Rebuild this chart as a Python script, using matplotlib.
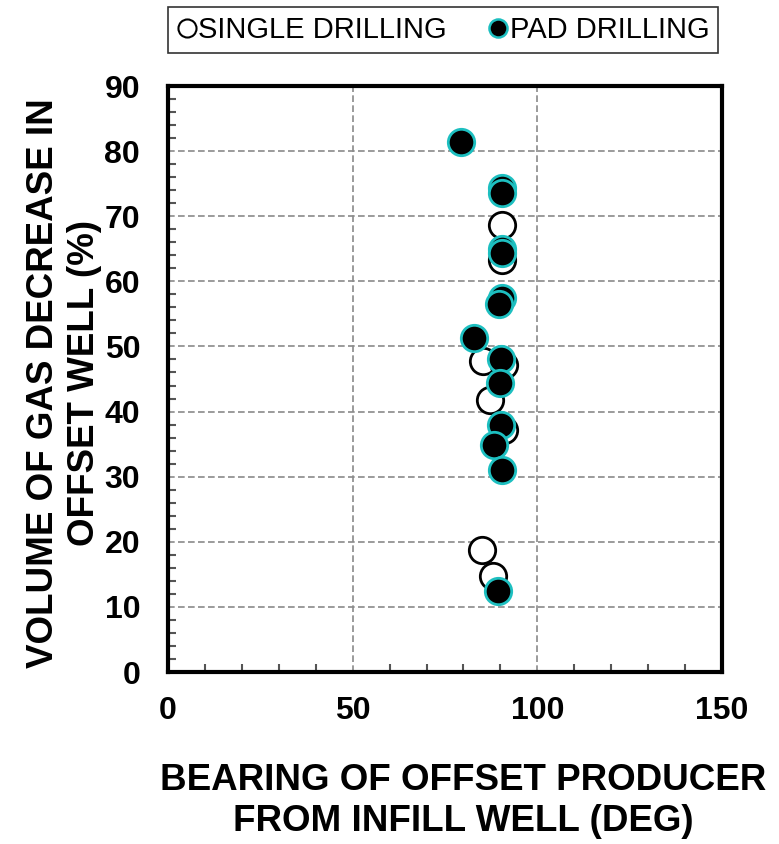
import matplotlib.pyplot as plt
from matplotlib.ticker import MultipleLocator
from matplotlib.lines import Line2D

plt.rcParams['font.family'] = ['Liberation Sans', 'DejaVu Sans']

# bearing (deg) vs gas decrease (%)
single_bearing = [90.4, 90.4, 85.2, 91.0, 87.2, 91.0, 85.0, 88.0]
single_decrease = [68.7, 63.2, 47.8, 47.2, 41.7, 37.1, 18.8, 14.7]

pad_bearing = [79.2, 90.4, 90.4, 90.4, 90.4, 90.4, 89.5, 82.8,
               90.1, 89.8, 90.1, 88.4, 90.4, 89.3]
pad_decrease = [81.4, 74.3, 73.6, 65.0, 64.4, 57.5, 56.5, 51.3,
                48.0, 44.4, 38.0, 34.9, 31.0, 12.5]

CYAN = '#1DBFC0'

fig = plt.figure(figsize=(7.79, 8.44), dpi=100)
ax = fig.add_axes([168 / 779, 1 - 672 / 844, (722 - 168) / 779, (672 - 86) / 844])

ax.plot(single_bearing, single_decrease, 'o', ms=19, mfc='white',
        mec='black', mew=2, linestyle='none', zorder=3)
ax.plot(pad_bearing, pad_decrease, 'o', ms=19, mfc='black',
        mec=CYAN, mew=2, linestyle='none', zorder=4)

ax.set_xlim(0, 150)
ax.set_ylim(0, 90)
ax.xaxis.set_major_locator(MultipleLocator(50))
ax.xaxis.set_minor_locator(MultipleLocator(10))
ax.yaxis.set_major_locator(MultipleLocator(10))
ax.yaxis.set_minor_locator(MultipleLocator(2))
ax.grid(True, which='major', color='#8a8a8a', linestyle=(0, (4, 2)), lw=1.2)
ax.set_axisbelow(True)

ax.tick_params(which='both', direction='in', color='#555555', width=1.5,
               top=False, right=False)
ax.tick_params(which='major', length=0)
ax.tick_params(which='minor', length=6)
ax.tick_params(axis='y', pad=20)
ax.tick_params(axis='x', pad=17)
for lab in ax.get_xticklabels() + ax.get_yticklabels():
    lab.set_fontsize(23)
    lab.set_fontweight('bold')

for sp in ax.spines.values():
    sp.set_linewidth(3)
    sp.set_color('black')

fig.text(64 / 779, 1 - 383 / 844, 'VOLUME OF GAS DECREASE IN\nOFFSET WELL (%)',
         rotation=90, ha='center', va='center', fontsize=26.5,
         fontweight='bold', linespacing=1.2)
fig.text(463 / 779, 1 - 801 / 844, 'BEARING OF OFFSET PRODUCER\nFROM INFILL WELL (DEG)',
         ha='center', va='center', fontsize=26.5, fontweight='bold',
         linespacing=1.2)

handles = [
    Line2D([], [], marker='o', ls='none', ms=13, mfc='white', mec='black', mew=1.5),
    Line2D([], [], marker='o', ls='none', ms=13, mfc='black', mec=CYAN, mew=1.8),
]
leg = fig.legend(handles, ['SINGLE DRILLING', 'PAD DRILLING'], ncol=2,
                 loc='center', bbox_to_anchor=(443 / 779, 1 - 30 / 844),
                 frameon=True, fancybox=False, edgecolor='black',
                 fontsize=21, handlelength=0.7, handletextpad=0.05,
                 columnspacing=1.4, borderpad=0.3, borderaxespad=0)
leg.get_frame().set_linewidth(1.2)

fig.savefig('out.png', dpi=100)
